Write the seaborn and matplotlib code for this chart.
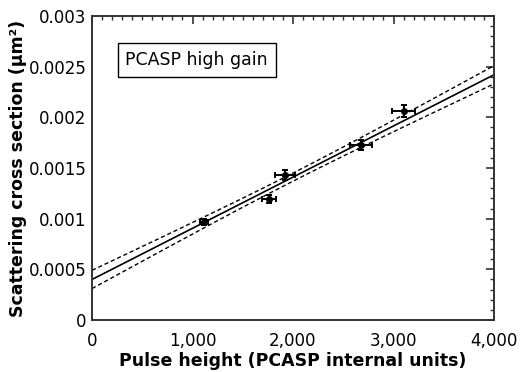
import numpy as np
import pandas as pd
import seaborn as sns
import matplotlib
matplotlib.use("Agg")
import matplotlib.pyplot as plt
from matplotlib.ticker import MultipleLocator

# data
pulse_height = [1115, 1760, 1920, 2680, 3100]
pulse_err = [40, 70, 100, 110, 110]
cross_section = [0.00097, 0.00119, 0.00143, 0.00173, 0.00206]
cross_err = [0.00003, 0.00004, 0.00005, 0.00005, 0.00006]

# fitted line and its confidence band
fit_intercept = 0.00040
fit_slope = 5.05e-7
band_min = 0.000040
band_center = 2000
band_edge = 0.000090
x_range = [0, 4000]

x_ticks = [0, 1000, 2000, 3000, 4000]
y_ticks = [0, 0.0005, 0.001, 0.0015, 0.002, 0.0025, 0.003]
y_labels = ["0", "0.0005", "0.001", "0.0015", "0.002", "0.0025", "0.003"]

sns.set_theme(style="white")
plt.rcParams['font.family'] = ['DejaVu Sans']
plt.rcParams['text.color'] = 'black'
plt.rcParams['axes.labelcolor'] = 'black'

fig = plt.figure(figsize=(5.22, 3.72), dpi=100)
ax = fig.add_axes([92/522, 1-320/372, (494-92)/522, (320-16)/372])

xs = np.linspace(x_range[0], x_range[1], 200)
ys = fit_intercept + fit_slope * xs
b = np.sqrt((band_edge**2 - band_min**2) / (band_center - x_range[0])**2)
hw = np.sqrt(band_min**2 + b**2 * (xs - band_center)**2)
df = pd.DataFrame({"x": xs, "fit": ys, "up": ys + hw, "lo": ys - hw})
sns.lineplot(data=df, x="x", y="fit", ax=ax, color="black", lw=1.2)
sns.lineplot(data=df, x="x", y="up", ax=ax, color="black", lw=1.0, linestyle=(0, (3, 2)))
sns.lineplot(data=df, x="x", y="lo", ax=ax, color="black", lw=1.0, linestyle=(0, (3, 2)))

ax.errorbar(pulse_height, cross_section, xerr=pulse_err, yerr=cross_err,
            fmt="o", color="black", ms=4, elinewidth=1.4, capsize=2.5, capthick=1.4)

ax.set_xlim(0, 4000)
ax.set_ylim(0, 0.003)
ax.set_xticks(x_ticks)
ax.set_xticklabels([f"{v:,}" for v in x_ticks])
ax.set_yticks(y_ticks)
ax.set_yticklabels(y_labels)
ax.xaxis.set_minor_locator(MultipleLocator(100))
ax.yaxis.set_minor_locator(MultipleLocator(0.0001))
ax.tick_params(which="both", direction="in", top=True, right=True, colors="#333333",
               labelcolor="black", labelsize=12)
ax.tick_params(which="major", length=6, width=1.2)
ax.tick_params(which="minor", length=3, width=1.0)
ax.tick_params(axis="x", pad=9)
ax.tick_params(axis="y", pad=4)
for s in ax.spines.values():
    s.set_visible(True)
    s.set_color("#333333")
    s.set_linewidth(1.4)

ax.set_xlabel("Pulse height (PCASP internal units)", fontsize=12.5, fontweight="bold", labelpad=1)
ax.set_ylabel("Scattering cross section (µm²)", fontsize=12.5, fontweight="bold", labelpad=1)

ax.text(0.083, 0.855, "PCASP high gain", transform=ax.transAxes, fontsize=12.5,
        va="center", ha="left", color="black",
        bbox=dict(boxstyle="square,pad=0.45", fc="white", ec="black", lw=1.0))

fig.savefig("out.png", dpi=100)
